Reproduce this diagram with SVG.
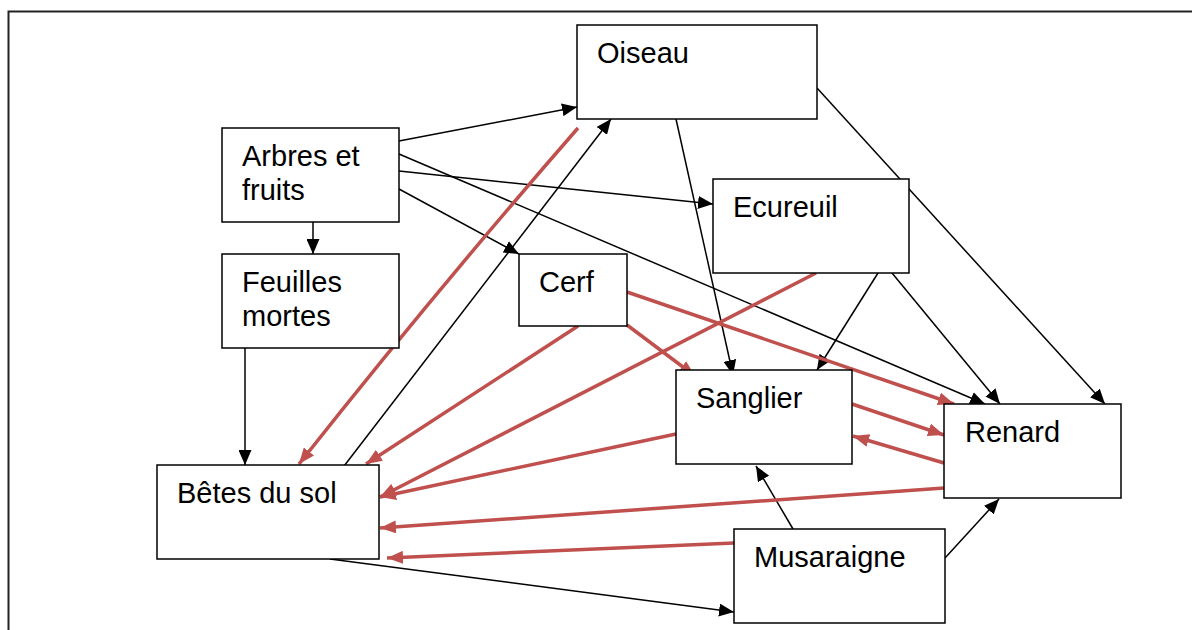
<svg xmlns="http://www.w3.org/2000/svg" width="1192" height="630" viewBox="0 0 1192 630">
<style>
.box{fill:#fff;stroke:#000;stroke-width:1.5}
.t{font-family:"Liberation Sans",Arial,sans-serif;font-size:29px;fill:#000}
.b{fill:none;stroke:#000;stroke-width:1.5;marker-end:url(#ab)}
.r{fill:none;stroke:#C0504D;stroke-width:3.5;marker-end:url(#ar)}
</style>
<defs>
<marker id="ab" markerUnits="userSpaceOnUse" markerWidth="15" markerHeight="13" refX="15" refY="6.5" orient="auto"><path d="M0,0 L15,6.5 L0,13 z" fill="#000"/></marker>
<marker id="ar" markerUnits="userSpaceOnUse" markerWidth="16" markerHeight="13" refX="16" refY="6.5" orient="auto"><path d="M0,0 L16,6.5 L0,13 z" fill="#C0504D"/></marker>
</defs>
<rect width="1192" height="630" fill="#fff"/>
<path d="M8.5,640 V11.5 H1200" fill="none" stroke="#222" stroke-width="2"/>

<g id="connectors">
<line class="b" x1="399" y1="141" x2="577" y2="107"/>
<line class="b" x1="399" y1="154" x2="985" y2="404"/>
<line class="b" x1="399" y1="171" x2="713" y2="204"/>
<line class="b" x1="399" y1="189" x2="519" y2="254"/>
<line class="b" x1="313" y1="200" x2="313" y2="254"/>
<line class="b" x1="245" y1="340" x2="245" y2="465"/>
<line class="b" x1="341" y1="470" x2="611" y2="119"/>
<line class="b" x1="676" y1="119" x2="733" y2="375"/>
<line class="b" x1="817" y1="88" x2="1105" y2="404"/>
<line class="b" x1="878" y1="273" x2="817" y2="370"/>
<line class="b" x1="892" y1="273" x2="1000" y2="404"/>
<line class="b" x1="793" y1="529" x2="756" y2="466"/>
<line class="b" x1="945" y1="558" x2="999" y2="499"/>
<line class="b" x1="330" y1="559" x2="734" y2="612"/>

<path class="r" d="M578,128 Q435,292 299,464"/>
<line class="r" x1="578" y1="326" x2="366" y2="464"/>
<line class="r" x1="816" y1="273" x2="380" y2="497"/>
<line class="r" x1="676" y1="434" x2="380" y2="497"/>
<line class="r" x1="944" y1="488" x2="380" y2="528"/>
<line class="r" x1="734" y1="543" x2="387" y2="558"/>
<line class="r" x1="627" y1="325" x2="695" y2="376"/>
<line class="r" x1="627" y1="292" x2="954" y2="404"/>
<line class="r" x1="852" y1="404" x2="944" y2="435"/>
<line class="r" x1="944" y1="463" x2="853" y2="436"/>
</g>

<g id="oiseau"><rect class="box" x="577" y="25" width="240" height="94"/><text class="t" x="597" y="63">Oiseau</text></g>
<g id="arbres"><rect class="box" x="222" y="128" width="177" height="94"/><text class="t" x="242" y="166">Arbres et</text><text class="t" x="242" y="199.5">fruits</text></g>
<g id="feuilles"><rect class="box" x="222" y="254" width="177" height="94"/><text class="t" x="242" y="292">Feuilles</text><text class="t" x="242" y="325.5">mortes</text></g>
<g id="cerf"><rect class="box" x="519" y="254" width="108" height="72"/><text class="t" x="539" y="292">Cerf</text></g>
<g id="ecureuil"><rect class="box" x="713" y="179" width="196" height="94"/><text class="t" x="733" y="217">Ecureuil</text></g>
<g id="betes"><rect class="box" x="157" y="465" width="222" height="94"/><text class="t" x="177" y="503">Bêtes du sol</text></g>
<g id="sanglier"><rect class="box" x="676" y="370" width="176" height="94"/><text class="t" x="696" y="408">Sanglier</text></g>
<g id="renard"><rect class="box" x="944" y="404" width="177" height="94"/><text class="t" x="965" y="442">Renard</text></g>
<g id="musaraigne"><rect class="box" x="734" y="529" width="211" height="94"/><text class="t" x="754" y="567">Musaraigne</text></g>
</svg>
